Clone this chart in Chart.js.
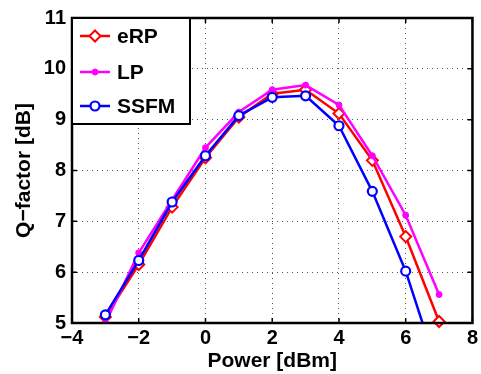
<!DOCTYPE html>
<html>
<head>
<meta charset="utf-8">
<script src="https://cdn.jsdelivr.net/npm/chart.js@4"></script>
<style>
  html, body { margin: 0; padding: 0; background: #fff; }
  #wrap { width: 481px; height: 374px; }
</style>
</head>
<body>
<div id="wrap"><canvas id="chart" width="481" height="374"></canvas></div>
<script>
const powers = [-3, -2, -1, 0, 1, 2, 3, 4, 5, 6, 7];
const erpQ = [5.12, 6.15, 7.28, 8.25, 9.05, 9.51, 9.59, 9.12, 8.2, 6.7, 5.03];
const lpQ = [5.0, 6.38, 7.42, 8.45, 9.15, 9.59, 9.68, 9.29, 8.29, 7.12, 5.56];
const ssfmQ = [5.16, 6.23, 7.38, 8.29, 9.08, 9.44, 9.47, 8.88, 7.59, 6.02, 4.0];
const xTicks = [-4, -2, 0, 2, 4, 6, 8];
const yTicks = [5, 6, 7, 8, 9, 10, 11];

const FONT = 'Liberation Sans, Arial, Helvetica, sans-serif';
const minus = v => String(v).replace('-', '\u2212');

const toPoints = ys => powers.map((x, i) => ({ x: x, y: ys[i] }));

// frame, inward tick marks and legend box, matlab style
const matlabFrame = {
  id: 'matlabFrame',
  afterDatasetsDraw(chart) {
    const { ctx, chartArea: a, scales: { x, y } } = chart;
    ctx.save();
    ctx.strokeStyle = '#000';
    ctx.lineWidth = 1.5;
    ctx.beginPath();
    xTicks.forEach(t => {
      const px = x.getPixelForValue(t);
      ctx.moveTo(px, a.bottom); ctx.lineTo(px, a.bottom - 5);
      ctx.moveTo(px, a.top); ctx.lineTo(px, a.top + 5);
    });
    yTicks.forEach(t => {
      const py = y.getPixelForValue(t);
      ctx.moveTo(a.left, py); ctx.lineTo(a.left + 5, py);
      ctx.moveTo(a.right, py); ctx.lineTo(a.right - 5, py);
    });
    ctx.stroke();
    ctx.lineWidth = 2.5;
    ctx.strokeRect(a.left, a.top, a.right - a.left, a.bottom - a.top);

    // legend
    const lx = a.left, ly = a.top, lw = 118, lh = 106;
    ctx.fillStyle = '#fff';
    ctx.fillRect(lx, ly, lw, lh);
    ctx.lineWidth = 2;
    ctx.strokeRect(lx, ly, lw, lh);
    const rows = [18, 54, 88];
    const items = ['eRP', 'LP', 'SSFM'];
    items.forEach((name, i) => {
      const ds = chart.data.datasets.find(d => d.label === name);
      const cy = ly + rows[i];
      ctx.strokeStyle = ds.borderColor;
      ctx.lineWidth = 2.5;
      ctx.beginPath();
      ctx.moveTo(lx + 8, cy); ctx.lineTo(lx + 38, cy);
      ctx.stroke();
      ctx.lineWidth = ds.pointBorderWidth;
      ctx.fillStyle = ds.pointBackgroundColor;
      ctx.beginPath();
      const r = ds.pointRadius;
      if (ds.pointStyle === 'rectRot') {
        ctx.moveTo(lx + 23, cy - r); ctx.lineTo(lx + 23 + r, cy);
        ctx.lineTo(lx + 23, cy + r); ctx.lineTo(lx + 23 - r, cy);
        ctx.closePath();
      } else {
        ctx.arc(lx + 23, cy, r, 0, Math.PI * 2);
      }
      ctx.fill(); ctx.stroke();
      ctx.fillStyle = '#000';
      ctx.font = 'bold 21px ' + FONT;
      ctx.textBaseline = 'middle';
      ctx.textAlign = 'left';
      ctx.fillText(name, lx + 45, cy + 1);
    });
    ctx.restore();
  }
};

new Chart(document.getElementById('chart'), {
  type: 'line',
  data: {
    datasets: [{
      label: 'eRP',
      order: 3,
      clip: false,
      data: toPoints(erpQ),
      borderColor: '#ff0000',
      borderWidth: 2.5,
      pointStyle: 'rectRot',
      pointRadius: 5.5,
      pointBorderWidth: 2,
      pointBackgroundColor: '#fff',
      pointBorderColor: '#ff0000'
    }, {
      label: 'LP',
      order: 2,
      data: toPoints(lpQ),
      borderColor: '#ff00ff',
      borderWidth: 2.5,
      pointStyle: 'circle',
      pointRadius: 3,
      pointBorderWidth: 1,
      pointBackgroundColor: '#ff00ff',
      pointBorderColor: '#ff00ff'
    }, {
      label: 'SSFM',
      order: 1,
      data: toPoints(ssfmQ),
      borderColor: '#0000ff',
      borderWidth: 2.5,
      pointStyle: 'circle',
      pointRadius: 4.5,
      pointBorderWidth: 2.2,
      pointBackgroundColor: '#fff',
      pointBorderColor: '#0000ff'
    }]
  },
  options: {
    responsive: false,
    animation: false,
    events: [],
    layout: { padding: { top: 15, right: 8, left: 0, bottom: 0 } },
    plugins: { legend: { display: false }, tooltip: { enabled: false } },
    scales: {
      x: {
        type: 'linear',
        min: -4, max: 8,
        afterBuildTicks: s => { s.ticks = xTicks.map(v => ({ value: v })); },
        afterFit: s => { s.height = 51; },
        border: { display: false, dash: [1, 4] },
        grid: { color: '#555', lineWidth: 1, drawTicks: false },
        ticks: {
          color: '#000', padding: 3,
          font: { family: FONT, size: 20, weight: 'bold' },
          callback: v => minus(v)
        },
        title: {
          display: true, text: 'Power [dBm]', color: '#000',
          font: { family: FONT, size: 21, weight: 'bold', lineHeight: 1.1 },
          padding: { top: 0, bottom: 1 }
        }
      },
      y: {
        min: 5, max: 11,
        afterBuildTicks: s => { s.ticks = yTicks.map(v => ({ value: v })); },
        afterFit: s => { s.width = 72; },
        border: { display: false, dash: [1, 4] },
        grid: { color: '#555', lineWidth: 1, drawTicks: false },
        ticks: {
          color: '#000', padding: 6,
          font: { family: FONT, size: 20, weight: 'bold' },
          callback: v => minus(v)
        },
        title: {
          display: true, text: 'Q\u2212factor [dB]', color: '#000',
          font: { family: FONT, size: 21, weight: 'bold', lineHeight: 1.1 },
          padding: { top: 13, bottom: 0 }
        }
      }
    }
  },
  plugins: [matlabFrame]
});
</script>
</body>
</html>
